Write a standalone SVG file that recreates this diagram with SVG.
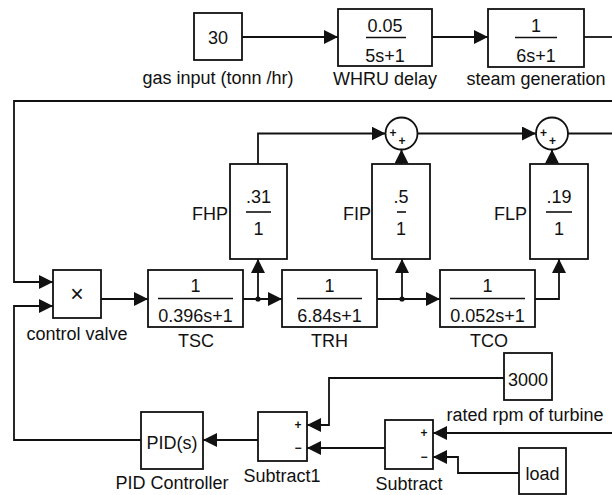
<svg xmlns="http://www.w3.org/2000/svg" width="612" height="495" viewBox="0 0 612 495">
<defs>
<style>
.blk{fill:#fff;stroke:#111;stroke-width:1.8}
.ln{fill:none;stroke:#111;stroke-width:1.8}
.fr{stroke:#111;stroke-width:1.6}
text{font-family:"Liberation Sans",Arial,sans-serif;font-size:18px;fill:#111}
.c{text-anchor:middle}
.e{text-anchor:end}
.sg{font-size:12px;font-weight:bold;text-anchor:middle}
</style>
<marker id="ah" markerUnits="userSpaceOnUse" markerWidth="14" markerHeight="14" refX="14" refY="7" orient="auto">
<path d="M0,0 L14,7 L0,14 z" fill="#111"/>
</marker>
</defs>
<rect width="612" height="495" fill="#fff"/>

<g id="connectors">
<path class="ln" d="M242,37 H338" marker-end="url(#ah)"/>
<path class="ln" d="M432,37 H488" marker-end="url(#ah)"/>
<path class="ln" d="M584,37 H612"/>
<path class="ln" d="M612,101 H14 V282 H53" marker-end="url(#ah)"/>
<path class="ln" d="M101,299 H148" marker-end="url(#ah)"/>
<path class="ln" d="M243,299 H282" marker-end="url(#ah)"/>
<path class="ln" d="M258,299 V259" marker-end="url(#ah)"/>
<path class="ln" d="M377,299 H440" marker-end="url(#ah)"/>
<path class="ln" d="M402,299 V259" marker-end="url(#ah)"/>
<path class="ln" d="M535,299 H559 V259" marker-end="url(#ah)"/>
<path class="ln" d="M258,164 V133.5 H385.5" marker-end="url(#ah)"/>
<path class="ln" d="M401.5,164 V149.5" marker-end="url(#ah)"/>
<path class="ln" d="M417.5,133.5 H536" marker-end="url(#ah)"/>
<path class="ln" d="M552,164 V149.5" marker-end="url(#ah)"/>
<path class="ln" d="M568,133.5 H612"/>
<path class="ln" d="M258,440 H203" marker-end="url(#ah)"/>
<path class="ln" d="M141,440 H14 V306 H53" marker-end="url(#ah)"/>
<path class="ln" d="M504,378 H329 V425 H307" marker-end="url(#ah)"/>
<path class="ln" d="M385,448 H307" marker-end="url(#ah)"/>
<path class="ln" d="M612,433 H433" marker-end="url(#ah)"/>
<path class="ln" d="M519,473 H458 V457 H433" marker-end="url(#ah)"/>
<circle cx="258" cy="299" r="2.6" fill="#111"/>
<circle cx="402" cy="299" r="2.6" fill="#111"/>
</g>

<g id="gas_input">
<rect class="blk" x="194" y="13" width="48" height="47"/>
<text class="c" x="218" y="44">30</text>
<text class="c" x="218" y="84">gas input (tonn /hr)</text>
</g>

<g id="whru_delay">
<rect class="blk" x="338" y="9" width="94" height="57"/>
<text class="c" x="385" y="32">0.05</text>
<line class="fr" x1="366" y1="37.5" x2="406" y2="37.5"/>
<text class="c" x="385" y="62">5s+1</text>
<text class="c" x="385" y="85">WHRU delay</text>
</g>

<g id="steam_generation">
<rect class="blk" x="488" y="9" width="96" height="58"/>
<text class="c" x="536" y="32">1</text>
<line class="fr" x1="515" y1="37.5" x2="557" y2="37.5"/>
<text class="c" x="536" y="62">6s+1</text>
<text class="c" x="536" y="85">steam generation</text>
</g>

<g id="control_valve">
<rect class="blk" x="53" y="270" width="48" height="48"/>
<text class="c" x="77" y="302" style="font-size:23px">×</text>
<text class="c" x="77" y="340">control valve</text>
</g>

<g id="TSC">
<rect class="blk" x="148" y="270" width="95" height="57"/>
<text class="c" x="195.5" y="292">1</text>
<line class="fr" x1="158" y1="298.5" x2="233" y2="298.5"/>
<text class="c" x="195.5" y="322">0.396s+1</text>
<text class="c" x="196" y="347">TSC</text>
</g>

<g id="TRH">
<rect class="blk" x="282" y="270" width="95" height="57"/>
<text class="c" x="329.5" y="292">1</text>
<line class="fr" x1="297" y1="298.5" x2="362" y2="298.5"/>
<text class="c" x="329.5" y="322">6.84s+1</text>
<text class="c" x="329.5" y="347">TRH</text>
</g>

<g id="TCO">
<rect class="blk" x="440" y="270" width="95" height="57"/>
<text class="c" x="487.5" y="292">1</text>
<line class="fr" x1="450" y1="298.5" x2="525" y2="298.5"/>
<text class="c" x="487.5" y="322">0.052s+1</text>
<text class="c" x="489" y="347">TCO</text>
</g>

<g id="FHP">
<rect class="blk" x="230" y="164" width="57" height="95"/>
<text class="c" x="258.5" y="203">.31</text>
<line class="fr" x1="246" y1="212" x2="271" y2="212"/>
<text class="c" x="258.5" y="235">1</text>
<text class="e" x="228" y="220">FHP</text>
</g>

<g id="FIP">
<rect class="blk" x="372" y="164" width="58" height="95"/>
<text class="c" x="401" y="203">.5</text>
<line class="fr" x1="397" y1="212" x2="406" y2="212"/>
<text class="c" x="401" y="235">1</text>
<text class="e" x="371" y="220">FIP</text>
</g>

<g id="FLP">
<rect class="blk" x="530" y="164" width="58" height="95"/>
<text class="c" x="559" y="203">.19</text>
<line class="fr" x1="546" y1="212" x2="572" y2="212"/>
<text class="c" x="559" y="235">1</text>
<text class="e" x="527" y="220">FLP</text>
</g>

<g id="sum1">
<circle class="blk" cx="401.5" cy="133.5" r="16"/>
<text class="sg" x="393" y="137">+</text>
<text class="sg" x="402" y="145">+</text>
</g>

<g id="sum2">
<circle class="blk" cx="552" cy="133.5" r="16"/>
<text class="sg" x="543.5" y="137">+</text>
<text class="sg" x="552.5" y="145">+</text>
</g>

<g id="pid_controller">
<rect class="blk" x="141" y="412" width="62" height="57"/>
<text class="c" x="172" y="449">PID(s)</text>
<text class="c" x="172" y="489">PID Controller</text>
</g>

<g id="subtract1">
<rect class="blk" x="258" y="412" width="49" height="49"/>
<text class="sg" x="298" y="429">+</text>
<text class="sg" x="298" y="452">−</text>
<text class="c" x="282" y="482">Subtract1</text>
</g>

<g id="subtract">
<rect class="blk" x="385" y="420" width="48" height="49"/>
<text class="sg" x="424" y="437">+</text>
<text class="sg" x="424" y="461">−</text>
<text class="c" x="409" y="490">Subtract</text>
</g>

<g id="rated_rpm">
<rect class="blk" x="504" y="353" width="48" height="47"/>
<text class="c" x="528" y="386">3000</text>
<text class="c" x="525" y="421">rated rpm of turbine</text>
</g>

<g id="load">
<rect class="blk" x="519" y="448" width="47" height="46"/>
<text class="c" x="542.5" y="480">load</text>
</g>
</svg>
